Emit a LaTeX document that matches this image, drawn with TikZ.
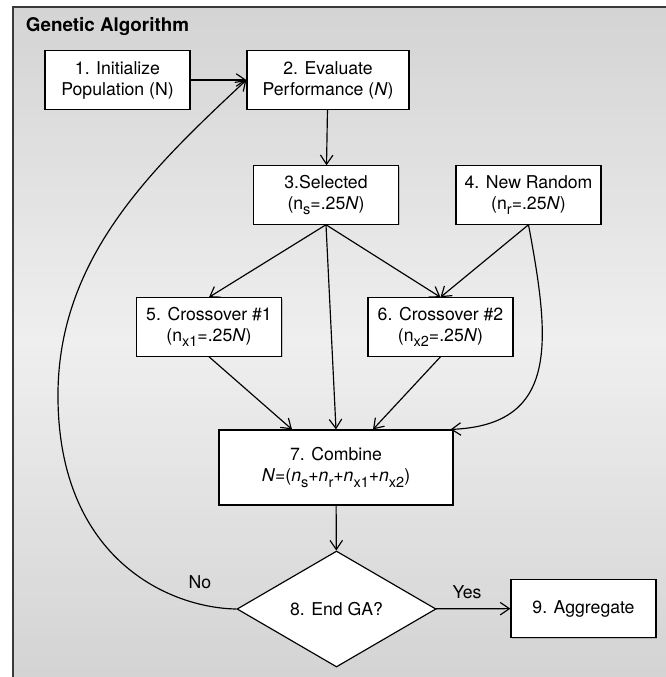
\documentclass[tikz,border=0pt]{standalone}
\usepackage{fontspec}
\setmainfont{TeX Gyre Heros}
\usetikzlibrary{shapes.geometric,arrows.meta,calc,shadows}
\definecolor{paneltop}{HTML}{D4D4D4}
\definecolor{panelmid}{HTML}{EFEFEF}
\definecolor{frameblack}{HTML}{3A3A3A}
\newcommand{\idx}[1]{\raisebox{-0.6ex}{\fontsize{8.7}{8.7}\selectfont #1}}

\begin{document}
\begin{tikzpicture}[x=0.6pt, y=-0.6pt,
  font=\fontsize{10.6}{12.6}\selectfont,
  procbox/.style={draw=black, line width=0.7pt, fill=white, align=center,
    minimum width=87pt, minimum height=35pt, inner sep=2pt,
    drop shadow={shadow xshift=0.7pt, shadow yshift=-0.7pt, opacity=0.4}},
  decision/.style={diamond, draw=black, line width=0.7pt, fill=white,
    minimum width=119.4pt, minimum height=69.6pt, inner sep=0pt},
  arr/.style={line width=0.7pt, -{Straight Barb[length=5.5pt,width=7.5pt]}}]
% Panel behind the flow chart, lighter in the middle
\useasboundingbox (0,0) rectangle (666,677);
\foreach \i in {0,...,66}
{
    \pgfmathtruncatemacro{\mix}{100*(1-abs(\i-33)/33)}
    \fill[panelmid!\mix!paneltop] (13,{7+10*\i}) rectangle (666,{17.5+10*\i});
}
\draw[frameblack, line width=1.3pt] (13,677) -- (13,7) -- (666,7);
\node[anchor=west, font=\fontsize{11.3}{13}\selectfont\bfseries] (title) at (20,27) {Genetic Algorithm};

% Steps
\node[procbox] (init) at (117.5,80) {1. Initialize\\Population (N)};
\node[procbox, minimum width=97.2pt] (eval) at (328,80) {2. Evaluate\\Performance (\textit{N})};
\node[procbox] (sel) at (326,195) {3.Selected\\(n\idx{s}=.25\textit{N})};
\node[procbox] (rand) at (528.5,195) {4. New Random\\(n\idx{r}=.25\textit{N})};
\node[procbox] (cross1) at (209,327) {5. Crossover \#1\\(n\idx{x1}=.25\textit{N})};
\node[procbox] (cross2) at (440.5,327) {6. Crossover \#2\\(n\idx{x2}=.25\textit{N})};
\node[procbox, minimum width=140.4pt, minimum height=45pt] (comb) at (336,467.5)
  {7. Combine\\\textit{N}=(\textit{n}\idx{s}+\textit{n}\idx{r}+\textit{n}\idx{x1}+\textit{n}\idx{x2})};
\node[decision] (endga) at (336.5,609) {8. End GA?};
\node[procbox] (aggr) at (583.5,608.5) {9. Aggregate};
\node (no) at (200,582) {No};
\node (yes) at (467,592) {Yes};

% Connectors
\draw[arr] (init) -- (eval);
\draw[arr] (eval) -- (sel);
\foreach \dest in {cross1,cross2}
  \draw[arr] (sel.south) -- (\dest.north);
\draw[arr] (rand.south) -- (cross2.north);
\draw[arr] (sel.south) -- (comb.north);
\draw[arr] (cross1.south) -- ($(comb.north)+(-44,0)$);
\draw[arr] (cross2.south) -- ($(comb.north)+(37,0)$);
\draw[arr] (rand.south) .. controls (550,340) and (560,425) .. ($(comb.north east)+(-3,0)$);
\draw[arr] (comb) -- (endga);
\draw[arr] (endga) -- (aggr);
\draw[arr] (endga.west) .. controls (170,608) and (60,560) .. (58,400)
  .. controls (56,260) and (150,170) .. (eval.west);
\end{tikzpicture}
\end{document}
